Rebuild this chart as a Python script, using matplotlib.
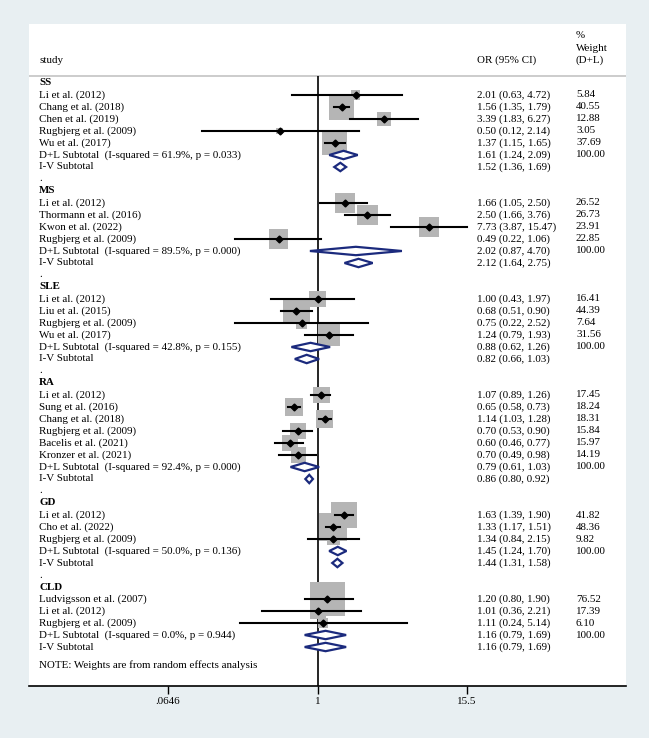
import numpy as np
import matplotlib.pyplot as plt
from matplotlib.patches import Rectangle, Polygon

plt.rcParams['font.family'] = ['Liberation Serif', 'DejaVu Serif']

groups = ['SS', 'MS', 'SLE', 'RA', 'GD', 'CLD']
study_names = [
    ['Li et al. (2012)', 'Chang et al. (2018)', 'Chen et al. (2019)', 'Rugbjerg et al. (2009)', 'Wu et al. (2017)'],
    ['Li et al. (2012)', 'Thormann et al. (2016)', 'Kwon et al. (2022)', 'Rugbjerg et al. (2009)'],
    ['Li et al. (2012)', 'Liu et al. (2015)', 'Rugbjerg et al. (2009)', 'Wu et al. (2017)'],
    ['Li et al. (2012)', 'Sung et al. (2016)', 'Chang et al. (2018)', 'Rugbjerg et al. (2009)',
     'Bacelis et al. (2021)', 'Kronzer et al. (2021)'],
    ['Li et al. (2012)', 'Cho et al. (2022)', 'Rugbjerg et al. (2009)'],
    ['Ludvigsson et al. (2007)', 'Li et al. (2012)', 'Rugbjerg et al. (2009)'],
]
study_or = [[2.01, 1.56, 3.39, 0.50, 1.37], [1.66, 2.50, 7.73, 0.49], [1.00, 0.68, 0.75, 1.24],
            [1.07, 0.65, 1.14, 0.70, 0.60, 0.70], [1.63, 1.33, 1.34], [1.20, 1.01, 1.11]]
study_lo = [[0.63, 1.35, 1.83, 0.12, 1.15], [1.05, 1.66, 3.87, 0.22], [0.43, 0.51, 0.22, 0.79],
            [0.89, 0.58, 1.03, 0.53, 0.46, 0.49], [1.39, 1.17, 0.84], [0.80, 0.36, 0.24]]
study_hi = [[4.72, 1.79, 6.27, 2.14, 1.65], [2.50, 3.76, 15.47, 1.06], [1.97, 0.90, 2.52, 1.93],
            [1.26, 0.73, 1.28, 0.90, 0.77, 0.98], [1.90, 1.51, 2.15], [1.90, 2.21, 5.14]]
study_weight = [[5.84, 40.55, 12.88, 3.05, 37.69], [26.52, 26.73, 23.91, 22.85], [16.41, 44.39, 7.64, 31.56],
                [17.45, 18.24, 18.31, 15.84, 15.97, 14.19], [41.82, 48.36, 9.82], [76.52, 17.39, 6.10]]
dl_or = [1.61, 2.02, 0.88, 0.79, 1.45, 1.16]
dl_lo = [1.24, 0.87, 0.62, 0.61, 1.24, 0.79]
dl_hi = [2.09, 4.70, 1.26, 1.03, 1.70, 1.69]
dl_i2 = [61.9, 89.5, 42.8, 92.4, 50.0, 0.0]
dl_p = [0.033, 0.000, 0.155, 0.000, 0.136, 0.944]
iv_or = [1.52, 2.12, 0.82, 0.86, 1.44, 1.16]
iv_lo = [1.36, 1.64, 0.66, 0.80, 1.31, 0.79]
iv_hi = [1.69, 2.75, 1.03, 0.92, 1.58, 1.69]
x_ticks = [0.0646, 1, 15.5]
x_ticklabels = ['.0646', '1', '15.5']

W, H = 649, 738
px_ln = 54.55      # pixels per log unit
x_null = 317.5     # pixel of OR = 1
row0, px_row = 83, 12.0

fig = plt.figure(figsize=(W / 100, H / 100), dpi=100, facecolor='#e8eff2')
ax = fig.add_axes([29 / W, 1 - 686 / H, 597 / W, 662 / H])
ax.set_facecolor('white')
ax.set_xlim((29 - x_null) / px_ln, (626 - x_null) / px_ln)
ax.set_ylim((686 - row0) / px_row, (24 - row0) / px_row)

fs = 7.9
tr = ax.get_yaxis_transform()
x_lab, x_or, x_w = 10 / 597, 448 / 597, 547 / 597
navy = '#1b2a7d'
gray = '#b5b5b5'
xmax = np.log(x_ticks[-1])

# header
ax.text(x_lab, -1.9, 'study', transform=tr, fontsize=fs, va='center')
ax.text(x_or, -1.9, 'OR (95% CI)', transform=tr, fontsize=fs, va='center')
ax.text(x_w, -1.9, '(D+L)', transform=tr, fontsize=fs, va='center')
ax.text(x_w, -2.9, 'Weight', transform=tr, fontsize=fs, va='center')
ax.text(x_w, -3.95, '%', transform=tr, fontsize=fs, va='center')
ax.axhline(-0.58, color='#c8c8c8', lw=1.3, zorder=1)
ax.vlines(0, -0.58, (686 - row0) / px_row, color='k', lw=1.2, zorder=1)


def diamond(est, lo, hi, y):
    h = 4.2 / px_row
    pts = [(np.log(lo), y), (np.log(est), y - h), (np.log(hi), y), (np.log(est), y + h)]
    ax.add_patch(Polygon(pts, closed=True, facecolor='white', edgecolor=navy, lw=1.6, zorder=4))


row = 0
for g in range(len(groups)):
    ax.text(x_lab, row, groups[g], transform=tr, fontsize=fs, va='center', fontweight='bold')
    row += 1
    for i in range(len(study_names[g])):
        est, lo, hi, w = study_or[g][i], study_lo[g][i], study_hi[g][i], study_weight[g][i]
        side = 4.0 * np.sqrt(w)
        bw, bh = side / px_ln, side / px_row
        ax.add_patch(Rectangle((np.log(est) - bw / 2, row - bh / 2), bw, bh,
                               facecolor=gray, edgecolor='none', zorder=2))
        if hi > x_ticks[-1]:
            # CI runs past the last tick: clip it and draw an arrow head
            ax.plot([np.log(lo), xmax], [row, row], color='k', lw=1.5, zorder=3)
            ax.plot(xmax, row, marker='>', color='k', markersize=6, zorder=3)
        else:
            ax.plot([np.log(lo), np.log(hi)], [row, row], color='k', lw=1.5, zorder=3)
        ax.plot(np.log(est), row, marker='D', color='k', markersize=3.5, zorder=5)
        ax.text(x_lab, row, study_names[g][i], transform=tr, fontsize=fs, va='center')
        ax.text(x_or, row, '%.2f (%.2f, %.2f)' % (est, lo, hi), transform=tr, fontsize=fs, va='center')
        ax.text(x_w, row, '%.2f' % w, transform=tr, fontsize=fs, va='center')
        row += 1
    diamond(dl_or[g], dl_lo[g], dl_hi[g], row)
    ax.text(x_lab, row, 'D+L Subtotal  (I-squared = %.1f%%, p = %.3f)' % (dl_i2[g], dl_p[g]),
            transform=tr, fontsize=fs, va='center')
    ax.text(x_or, row, '%.2f (%.2f, %.2f)' % (dl_or[g], dl_lo[g], dl_hi[g]), transform=tr, fontsize=fs, va='center')
    ax.text(x_w, row, '100.00', transform=tr, fontsize=fs, va='center')
    row += 1
    diamond(iv_or[g], iv_lo[g], iv_hi[g], row)
    ax.text(x_lab, row, 'I-V Subtotal', transform=tr, fontsize=fs, va='center')
    ax.text(x_or, row, '%.2f (%.2f, %.2f)' % (iv_or[g], iv_lo[g], iv_hi[g]), transform=tr, fontsize=fs, va='center')
    row += 1
    if g < len(groups) - 1:
        ax.text(x_lab, row, '.', transform=tr, fontsize=fs, va='center')
        row += 1

ax.text(x_lab, row + 0.5, 'NOTE: Weights are from random effects analysis', transform=tr, fontsize=fs, va='center')

for s in ['top', 'left', 'right']:
    ax.spines[s].set_visible(False)
ax.spines['bottom'].set_linewidth(1.2)
ax.set_yticks([])
ax.set_xticks(np.log(x_ticks))
ax.set_xticklabels(x_ticklabels, fontsize=fs)
ax.tick_params(axis='x', length=6, width=1, pad=2)

plt.savefig('out.png', dpi=100, facecolor=fig.get_facecolor())
